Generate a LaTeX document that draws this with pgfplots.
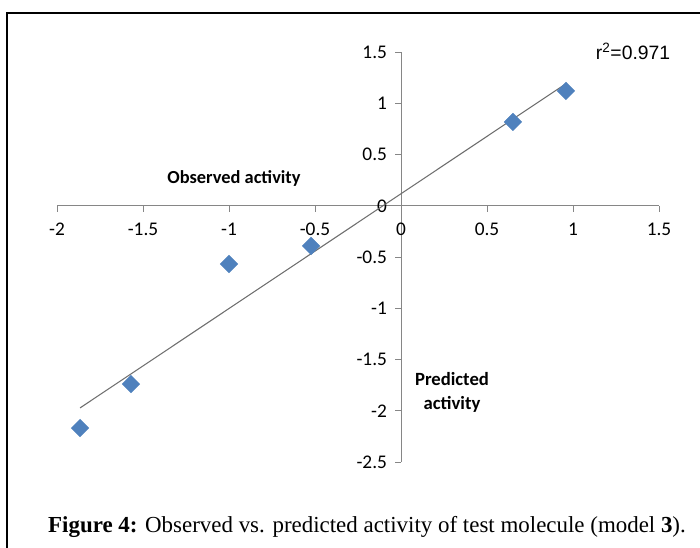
\documentclass[border=0pt]{standalone}
\usepackage{fontspec}
\setmainfont{Liberation Serif}
\newfontfamily\calibri{Carlito}
\newfontfamily\arial{Liberation Sans}
\usepackage{pgfplots}
\pgfplotsset{compat=1.18}
\definecolor{ptblue}{HTML}{4F81BD}
\definecolor{axgray}{HTML}{868686}
\definecolor{trend}{HTML}{6E6E6E}
\begin{document}
\begin{tikzpicture}
\path[use as bounding box] (0,0) rectangle (525pt,411pt);
\begin{axis}[at={(300.75pt,256.5pt)},anchor=origin,
  x=129pt,y=76.875pt,
  xmin=-2,xmax=1.5,ymin=-2.5,ymax=1.5,
  axis lines=middle,
  axis line style={-,draw=axgray,line width=0.75pt},
  tick style={draw=axgray,line width=0.75pt},
  tick align=outside,major tick length=4.5pt,
  hide obscured x ticks=false,hide obscured y ticks=false,
  xtick={-2,-1.5,-1,-0.5,0,0.5,1,1.5},
  xticklabels={-2,-1.5,-1,-0.5,0,0.5,1,1.5},
  ytick={-2.5,-2,-1.5,-1,-0.5,0,0.5,1,1.5},
  yticklabels={-2.5,-2,-1.5,-1,-0.5,0,0.5,1,1.5},
  ticklabel style={font=\calibri\fontsize{14.5pt}{17pt}\selectfont},
  xticklabel style={yshift=-5pt},
  yticklabel style={xshift=-2.5pt},
  clip=false]
\addplot[trend,line width=0.8pt] coordinates {(-1.866,-1.97)(0.965,1.2)};
\addplot[only marks,mark=square*,mark size=4.6pt,
  mark options={rotate=45,fill=ptblue,draw=ptblue}] coordinates {
  (-1.866,-2.166) (-1.57,-1.737) (-1.0,-0.566) (-0.523,-0.39) (0.651,0.82) (0.959,1.122)};
\end{axis}
\begin{scope}[x=0.75pt,y=-0.75pt,yshift=411pt]
\draw[line width=1.1pt] (7,548) -- (7,13) -- (700,13);
\node[font=\calibri\bfseries\fontsize{13.8pt}{16pt}\selectfont] at (234,178) {Observed activity};
\node[font=\calibri\bfseries\fontsize{14pt}{18pt}\selectfont,align=center] at (452,392) {Predicted\\activity};
\node[font=\arial\fontsize{14.5pt}{17pt}\selectfont] at (633,51) {r\textsuperscript{2}=0.971};
\node[font=\fontsize{17.2pt}{20pt}\selectfont] at (367,527) {\textbf{Figure 4:} Observed vs. predicted activity of test molecule (model \textbf{3}).};
\end{scope}
\end{tikzpicture}
\end{document}
